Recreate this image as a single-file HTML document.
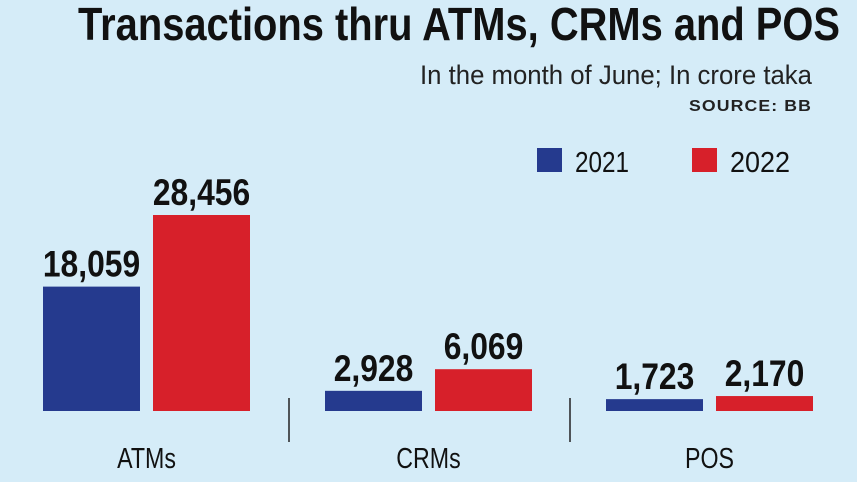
<!DOCTYPE html>
<html><head><meta charset="utf-8"><style>
html,body{margin:0;padding:0;background:#d5ecf8;}
svg{display:block;font-family:"Liberation Sans",sans-serif;}
</style></head><body>
<svg id="chart" width="857" height="482" viewBox="0 0 857 482">
<rect x="0" y="0" width="857" height="482" fill="#d5ecf8"/>
<text x="78" y="40" font-size="46" font-weight="bold" fill="#111" textLength="762" lengthAdjust="spacingAndGlyphs">Transactions thru ATMs, CRMs and POS</text>
<text x="420" y="84" font-size="27" fill="#222" textLength="392" lengthAdjust="spacingAndGlyphs">In the month of June; In crore taka</text>
<text x="689" y="111" font-size="16" font-weight="bold" fill="#222" textLength="123" lengthAdjust="spacingAndGlyphs" letter-spacing="1">SOURCE: BB</text>
<g>
<rect x="537" y="148" width="25" height="24" fill="#253a8e"/>
<text x="575" y="172" font-size="29" fill="#111" textLength="54" lengthAdjust="spacingAndGlyphs">2021</text>
<rect x="692" y="148" width="25" height="24" fill="#d7202a"/>
<text x="730" y="172" font-size="29" fill="#111" textLength="60" lengthAdjust="spacingAndGlyphs">2022</text>
</g>
<g id="bars"></g>
</svg>
<script>
const categories = ["ATMs", "CRMs", "POS"];
const values2021 = [18059, 2928, 1723];
const values2022 = [28456, 6069, 2170];
const valueLabels2021 = ["18,059", "2,928", "1,723"];
const valueLabels2022 = ["28,456", "6,069", "2,170"];

const NS = "http://www.w3.org/2000/svg";
const g = document.getElementById("bars");
const baseY = 411, pxPerUnit = 196 / 28456;
const groupX = [43, 325, 606], groupW = 281, barW = 97, gap = 13;
function y(v){ return baseY - v * pxPerUnit; }
function mk(tag, attrs){ const e = document.createElementNS(NS, tag); for (const k in attrs) e.setAttribute(k, attrs[k]); return e; }
categories.forEach((c, i) => {
  const series = [[values2021[i], valueLabels2021[i], "#253a8e", "2021"], [values2022[i], valueLabels2022[i], "#d7202a", "2022"]];
  series.forEach((s, j) => {
    const x = groupX[i] + j * (barW + gap);
    const r = mk("rect", {x: x, y: y(s[0]), width: barW, height: baseY - y(s[0]), fill: s[2]});
    
    
    g.appendChild(r);
    const t = mk("text", {transform: "translate(" + (x + barW / 2) + "," + (y(s[0]) - 10) + ") scale(0.86,1)", "text-anchor": "middle", "font-size": "37", "font-weight": "bold", fill: "#111"});
    t.textContent = s[1];
    
    
    g.appendChild(t);
  });
  const cx = groupX[i] + barW + gap / 2;
  const lbl = mk("text", {transform: "translate(" + cx + ",468) scale(0.8,1)", "text-anchor": "middle", "font-size": "29", fill: "#111"});
  lbl.textContent = c;
  
  
  g.appendChild(lbl);
  if (i > 0) {
    const sx = groupX[i] - 36;
    const ln = mk("line", {x1: sx, x2: sx, y1: 398, y2: 442, stroke: "#222", "stroke-width": "1.5"});
    
    
    g.appendChild(ln);
  }
});
</script>
</body></html>
